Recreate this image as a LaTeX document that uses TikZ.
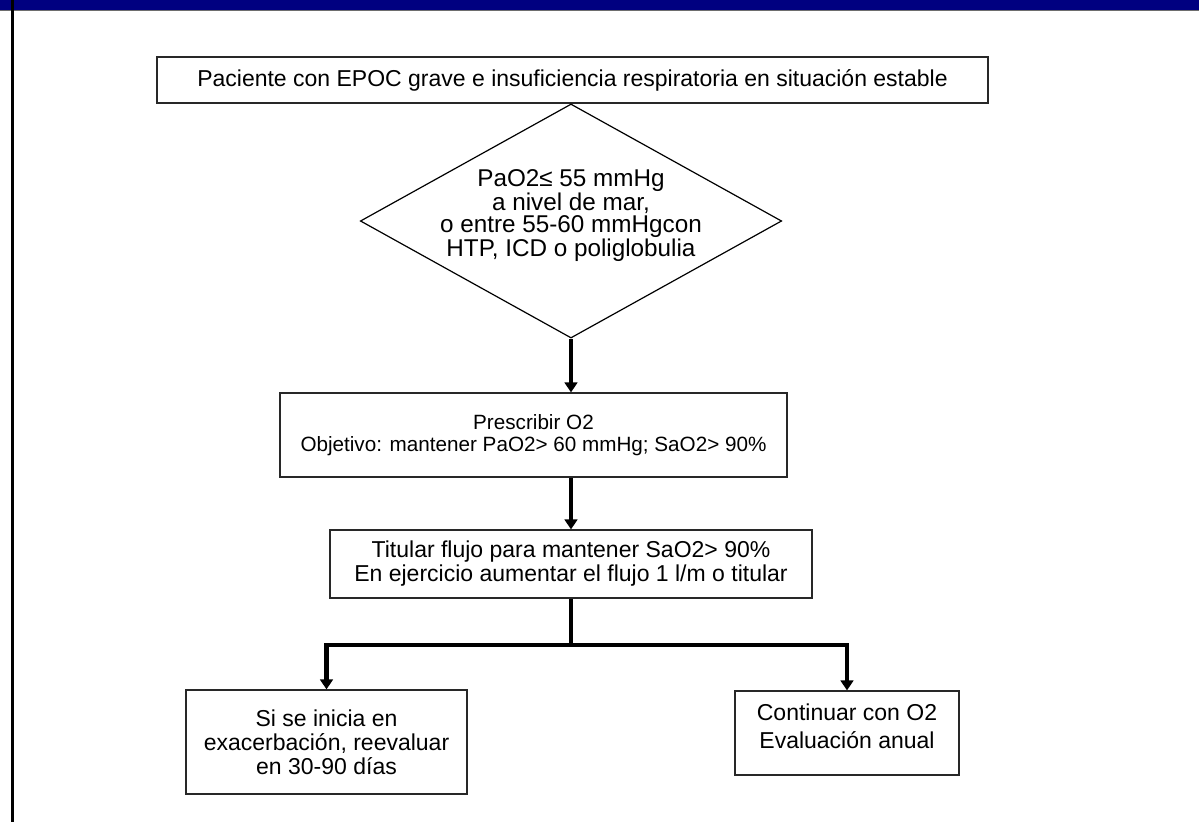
\documentclass[tikz,border=0pt]{standalone}
\usepackage{fontspec}
\setmainfont{Liberation Sans}
\usepackage{tikz}
\usetikzlibrary{shapes.geometric,arrows.meta}
\definecolor{slidenavy}{RGB}{0,0,128}
\definecolor{slidegrey}{RGB}{110,110,110}
\definecolor{boxline}{RGB}{40,40,40}

\begin{document}
\begin{tikzpicture}[x=0.75pt, y=-0.75pt,
  every node/.style={align=center, font=\fontsize{17.25}{18}\selectfont},
  box/.style={draw=boxline, line width=0.9pt, inner sep=0pt},
  decision/.style={draw=black, line width=0.9pt, diamond, inner xsep=-10pt, inner ysep=0pt, shape aspect=1.8},
  link/.style={line width=3.6pt, black, line join=miter},
  flow/.style={link, -{Triangle[width=9.5pt,length=7.5pt]}}]
\useasboundingbox (0,0) rectangle (1199,822);
% slide frame
\fill[slidenavy] (0,0) rectangle (1199,10);
\draw[slidegrey, line width=0.9pt] (0,10.5) -- (1199,10.5);
\draw[black, line width=2.4pt] (12.5,0) -- (12.5,822);
% nodes
\node[box, minimum width=623.25pt, minimum height=34.5pt] (start) at (572.5,80)
  {Paciente con EPOC grave e insuficiencia respiratoria en situación estable};
\node[decision, minimum width=315pt, minimum height=175.5pt,
  font=\fontsize{18.2}{16.5}\selectfont] (crit) at (571,221)
  {PaO2≤ 55 mmHg\\a nivel de mar,\\o entre 55-60 mmHgcon\\HTP, ICD o poliglobulia\\[-4pt]};
\node[box, minimum width=380.25pt, minimum height=63pt,
  font=\fontsize{15.5}{16.5}\selectfont] (presc) at (533.5,435)
  {Prescribir O2\\Objetivo: mantener PaO2> 60 mmHg; SaO2> 90\%};
\node[box, minimum width=361.5pt, minimum height=51pt] (titr) at (571,564)
  {Titular flujo para mantener SaO2> 90\%\\En ejercicio aumentar el flujo 1 l/m o titular};
\node[box, minimum width=210.75pt, minimum height=78pt] (reev) at (326.5,742)
  {Si se inicia en\\exacerbación, reevaluar\\en 30-90 días};
\node[box, minimum width=168pt, minimum height=63pt,
  font=\fontsize{17.25}{21}\selectfont] (cont) at (847,733)
  {Continuar con O2\\Evaluación anual\\[-10pt]};
\coordinate (split) at (571,645);
% connectors
\draw[flow] (crit.south) -- (crit.south |- presc.north);
\draw[flow] (titr.north |- presc.south) -- (titr.north);
\draw[link] (titr.south) -- (split);
\draw[flow] (split) -| (reev.north);
\draw[flow] (split) -| (cont.north);
\end{tikzpicture}
\end{document}
